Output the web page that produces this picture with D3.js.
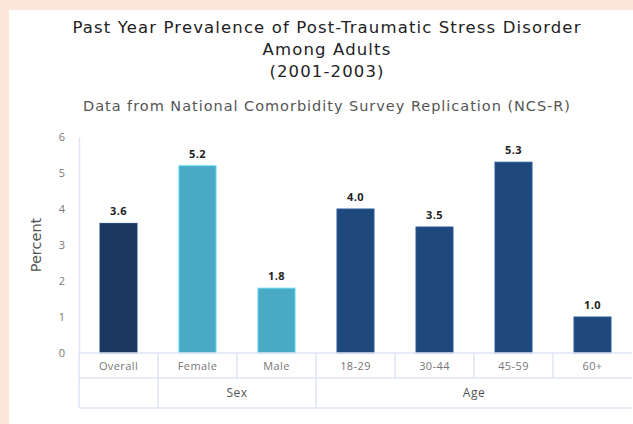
<!DOCTYPE html>
<html><head><meta charset="utf-8">
<script src="https://cdn.jsdelivr.net/npm/d3@7"></script>
<style>
html,body{margin:0;padding:0;background:#fde6da;}
svg{display:block;}
</style></head>
<body>
<svg id="chart" width="633" height="424"></svg>
<script>
const categories = ["Overall","Female","Male","18-29","30-44","45-59","60+"];
const values = [3.6, 5.2, 1.8, 4.0, 3.5, 5.3, 1.0];
const groups = ["", "Sex", "Sex", "Age", "Age", "Age", "Age"];
const barColors = ["#1a375d","#4aaac4","#4aaac4","#1f497c","#1f497c","#1f497c","#1f497c"];
const yTicks = [0,1,2,3,4,5,6];
const titleLines = ["Past Year Prevalence of Post-Traumatic Stress Disorder","Among Adults","(2001-2003)"];
const subtitle = "Data from National Comorbidity Survey Replication (NCS-R)";

(function(){
const svg = d3.select("#chart");
const font = "'Open Sans', 'DejaVu Sans', sans-serif";
const tfont = "'DejaVu Sans', sans-serif";
svg.append("rect").attr("x",9).attr("y",10).attr("width",633-9).attr("height",424-10).attr("fill","#fff");

const plotLeft = 79, plotRight = 632, plotTop = 137, zeroY = 353;
const x = d3.scaleBand().domain(categories).range([plotLeft, plotRight]).paddingInner(0).paddingOuter(0);
const y = d3.scaleLinear().domain([0,6]).range([zeroY, plotTop]);
const lineCol = "#dfe4f6";

function spaceTo(sel, target){
  const txt = sel.text();
  const w = sel.node().getComputedTextLength();
  const ls = (target - w) / Math.max(1, txt.length - 1);
  sel.attr("letter-spacing", ls);
  return ls;
}

// Titles
const tY = [33, 55, 77];
const tNodes = titleLines.map((t,i)=>
  svg.append("text").attr("x",327).attr("y",tY[i]).attr("text-anchor","middle")
    .attr("font-family",tfont).attr("font-size",16.5).attr("fill","#222").text(t));
const ls0 = spaceTo(tNodes[0], 508);
tNodes.forEach(n=>n.attr("letter-spacing",ls0));
const sub = svg.append("text").attr("x",327).attr("y",111).attr("text-anchor","middle")
  .attr("font-family",tfont).attr("font-size",14.5).attr("fill","#555").text(subtitle);
spaceTo(sub, 487);

// Y axis
const yAxis = d3.axisLeft(y).tickValues(yTicks).tickSize(0).tickPadding(14).tickFormat(d3.format("d"));
const ga = svg.append("g").attr("transform",`translate(${plotLeft},0)`).call(yAxis);
ga.select(".domain").attr("stroke",lineCol).attr("stroke-width",1.5);
ga.selectAll("text").attr("font-family",font).attr("font-size",11).attr("fill","#777");

svg.append("text").attr("transform",`translate(41,245) rotate(-90)`).attr("text-anchor","middle")
  .attr("font-family",tfont).attr("font-size",14.5).attr("fill","#555").text("Percent");

// Bars
const bw = 37;
svg.selectAll("rect.bar").data(categories).enter().append("rect").attr("class","bar")
  .attr("x",d=>x(d)+x.bandwidth()/2-bw/2)
  .attr("y",(d,i)=>y(values[i]))
  .attr("width",bw)
  .attr("height",(d,i)=>y(0)-y(values[i]))
  .attr("fill",(d,i)=>barColors[i])
  .attr("stroke",(d,i)=>d3.color(barColors[i]).brighter(0.6))
  .attr("stroke-width",1);

svg.selectAll("text.val").data(categories).enter().append("text").attr("class","val")
  .attr("x",d=>x(d)+x.bandwidth()/2)
  .attr("y",(d,i)=>y(values[i])-8)
  .attr("text-anchor","middle")
  .attr("font-family",font).attr("font-size",11).attr("font-weight","bold").attr("letter-spacing",0.5).attr("fill","#222")
  .text((d,i)=>values[i].toFixed(1));

// Category table
const row1 = zeroY, row2 = 378, row3 = 408;
const g = svg.append("g").attr("stroke",lineCol).attr("stroke-width",1.5).attr("fill","none");
g.append("line").attr("x1",plotLeft).attr("x2",plotRight).attr("y1",row1).attr("y2",row1);
g.append("line").attr("x1",plotLeft).attr("x2",plotRight).attr("y1",row2).attr("y2",row2);
g.append("line").attr("x1",plotLeft).attr("x2",plotRight).attr("y1",row3).attr("y2",row3);
g.append("line").attr("x1",plotLeft).attr("x2",plotLeft).attr("y1",row1).attr("y2",row3);
categories.forEach((c,i)=>{
  if(i>0){
    const xx = x(c);
    const spanGroup = groups[i]===groups[i-1];
    g.append("line").attr("x1",xx).attr("x2",xx).attr("y1",row1).attr("y2",spanGroup?row2:row3);
  }
});
svg.selectAll("text.cat").data(categories).enter().append("text").attr("class","cat")
  .attr("x",d=>x(d)+x.bandwidth()/2).attr("y",370).attr("text-anchor","middle")
  .attr("font-family",font).attr("font-size",11).attr("letter-spacing",0.4).attr("fill","#777").text(d=>d);

const uniq = [...new Set(groups)];
uniq.forEach(gname=>{
  if(!gname) return;
  const idx = categories.filter((c,i)=>groups[i]===gname);
  const x0 = x(idx[0]), x1 = x(idx[idx.length-1])+x.bandwidth();
  svg.append("text").attr("x",(x0+x1)/2).attr("y",397).attr("text-anchor","middle")
    .attr("font-family",font).attr("font-size",12).attr("letter-spacing",0.5).attr("fill","#555").text(gname);
});
})();
</script>
</body></html>
